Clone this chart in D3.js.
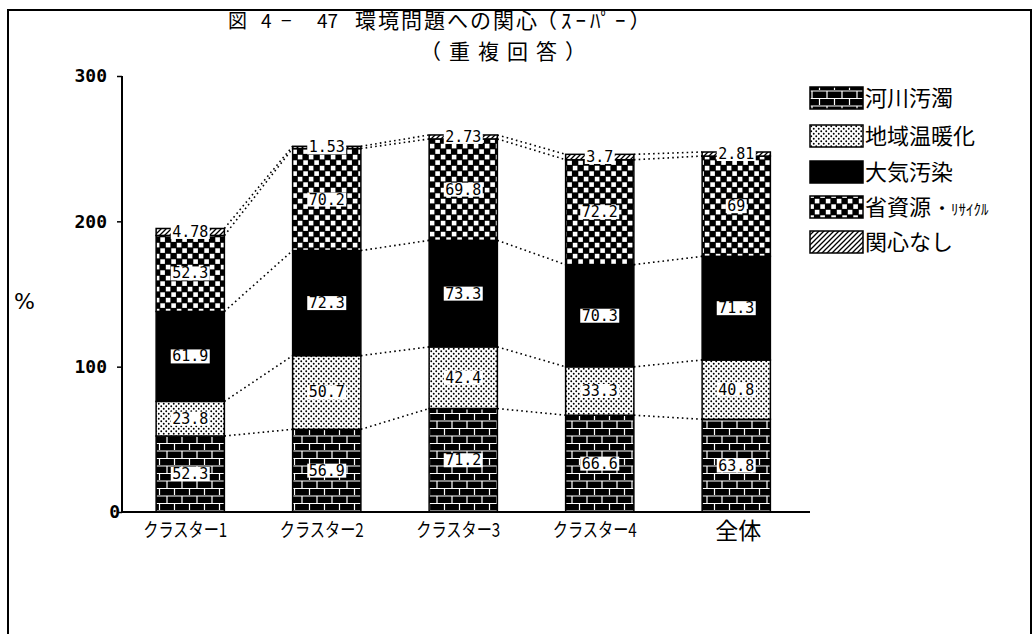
<!DOCTYPE html>
<html><head><meta charset="utf-8">
<script src="https://cdn.jsdelivr.net/npm/d3@7/dist/d3.min.js"></script>
<style>
html,body{margin:0;padding:0;background:#fff;}
svg{display:block;}
</style></head>
<body>
<svg id="c" width="1034" height="634"></svg>
<script>
const categories = ["クラスター1","クラスター2","クラスター3","クラスター4","全体"];
const seriesNames = ["河川汚濁","地域温暖化","大気汚染","省資源・ﾘｻｲｸﾙ","関心なし"];
const river    = [52.3, 56.9, 71.2, 66.6, 63.8];
const warming  = [23.8, 50.7, 42.4, 33.3, 40.8];
const air      = [61.9, 72.3, 73.3, 70.3, 71.3];
const resource = [52.3, 70.2, 69.8, 72.2, 69];
const noInterest = [4.78, 1.53, 2.73, 3.7, 2.81];
const yTicks = [0, 100, 200, 300];

const series = [river, warming, air, resource, noInterest];
const patterns = ["brick","dots","solid","checker","hatch"];

const svg = d3.select("#c");
const defs = svg.append("defs");

// brick
const pb = defs.append("pattern").attr("id","brick").attr("patternUnits","userSpaceOnUse")
  .attr("width",15).attr("height",15);
pb.append("rect").attr("width",15).attr("height",15).attr("fill","#000");
pb.append("path").attr("d","M0,1 H15 M0,8.5 H15 M2,1 V8.5 M9.5,8.5 V16")
  .attr("stroke","#fff").attr("stroke-width",1.2).attr("fill","none");
// dots
const pd = defs.append("pattern").attr("id","dots").attr("patternUnits","userSpaceOnUse")
  .attr("width",5).attr("height",5);
pd.append("rect").attr("width",5).attr("height",5).attr("fill","#fff");
pd.append("circle").attr("cx",1.25).attr("cy",1.25).attr("r",0.95).attr("fill","#000");
pd.append("circle").attr("cx",3.75).attr("cy",3.75).attr("r",0.95).attr("fill","#000");
// solid
const ps = defs.append("pattern").attr("id","solid").attr("patternUnits","userSpaceOnUse")
  .attr("width",4).attr("height",4);
ps.append("rect").attr("width",4).attr("height",4).attr("fill","#000");
// checker
const pc = defs.append("pattern").attr("id","checker").attr("patternUnits","userSpaceOnUse")
  .attr("width",11).attr("height",11);
pc.append("rect").attr("width",11).attr("height",11).attr("fill","#000");
pc.append("rect").attr("x",0.8).attr("y",0.8).attr("width",4.6).attr("height",4.6).attr("fill","#fff");
pc.append("rect").attr("x",6.3).attr("y",6.3).attr("width",4.6).attr("height",4.6).attr("fill","#fff");
// hatch
const ph = defs.append("pattern").attr("id","hatch").attr("patternUnits","userSpaceOnUse")
  .attr("width",5).attr("height",5);
ph.append("rect").attr("width",5).attr("height",5).attr("fill","#fff");
ph.append("path").attr("d","M-1,1 L1,-1 M0,5 L5,0 M4,6 L6,4")
  .attr("stroke","#000").attr("stroke-width",1.3);

// frame
svg.append("path").attr("d","M8,634 V10 H1031 V634").attr("fill","none")
  .attr("stroke","#000").attr("stroke-width",2);

const x = d3.scaleBand().domain(categories).range([122, 804.5]).paddingInner(0.5).paddingOuter(0.25);
const y = d3.scaleLinear().domain([0,300]).range([512, 76]);

// stacked
const stackData = categories.map((c,i)=>{
  const o = {cat:c};
  seriesNames.forEach((s,k)=>o[s]=series[k][i]);
  return o;
});
const stacked = d3.stack().keys(seriesNames)(stackData);

// dotted connectors
const g = svg.append("g");
stacked.forEach((layer)=>{
  for(let i=0;i<categories.length-1;i++){
    g.append("line")
      .attr("x1", x(categories[i])+x.bandwidth()).attr("y1", y(layer[i][1]))
      .attr("x2", x(categories[i+1])).attr("y2", y(layer[i+1][1]))
      .attr("stroke","#000").attr("stroke-width",1.6)
      .attr("stroke-dasharray","1.6,3.2");
  }
});

// bars
stacked.forEach((layer,k)=>{
  g.selectAll(null).data(layer).enter().append("rect")
    .attr("x", (d,i)=>x(categories[i]))
    .attr("width", x.bandwidth())
    .attr("y", d=>y(d[1]))
    .attr("height", d=>y(d[0])-y(d[1]))
    .attr("fill", `url(#${patterns[k]})`)
    .attr("stroke","#000").attr("stroke-width",1.5);
});

// labels
stacked.forEach((layer,k)=>{
  layer.forEach((d,i)=>{
    const cx = x(categories[i]) + x.bandwidth()/2;
    const cy = (y(d[0])+y(d[1]))/2;
    const txt = String(series[k][i]);
    const w = txt.length*9 + 3;
    g.append("rect").attr("x", cx-w/2).attr("y", cy-7).attr("width", w).attr("height", 14)
      .attr("fill","#fff");
    g.append("text").attr("x", cx).attr("y", cy)
      .attr("text-anchor","middle").attr("dominant-baseline","central")
      .attr("font-family","DejaVu Sans Mono").attr("font-size",15)
      .attr("fill","#000").text(txt);
  });
});

// axes
const yAxis = d3.axisLeft(y).tickValues(yTicks).tickSize(14).tickPadding(1).tickFormat(d3.format("d"));
const ya = svg.append("g").attr("transform","translate(122,0)").call(yAxis);
ya.select(".domain").attr("stroke-width",2).attr("d","M0,76 V512");
ya.selectAll(".tick line").attr("stroke-width",1.5).attr("x2",-5);
ya.selectAll(".tick text").attr("font-family","DejaVu Sans Mono").attr("font-size",18)
  .attr("font-weight","bold").attr("x",-15).attr("fill","#000");
ya.selectAll(".tick").filter(d=>d===0).select("text").attr("x",-2);

svg.append("line").attr("x1",121).attr("x2",810).attr("y1",512).attr("y2",512)
  .attr("stroke","#000").attr("stroke-width",2);

// x labels
categories.forEach((c)=>{
  const cx = x(c)+x.bandwidth()/2;
  const t = svg.append("text").attr("x", cx - 5).attr("y", 537)
    .attr("text-anchor","middle").attr("font-family","Noto Sans CJK JP")
    .attr("fill","#000").text(c);
  if(c==="全体") t.attr("font-size",23).attr("x",cx+2).attr("y",539);
  else t.attr("font-size",19).attr("textLength",84).attr("lengthAdjust","spacingAndGlyphs");
});

// y label
svg.append("text").attr("x",14).attr("y",309).attr("font-family","DejaVu Sans")
  .attr("font-size",22).text("%");

// title
const tf = "Noto Sans CJK JP";
const t1 = svg.append("text").attr("y",28).attr("font-family",tf).attr("font-size",19).attr("fill","#000");
t1.append("tspan").attr("x",228).text("図");
t1.append("tspan").attr("x",261).text("4");
t1.append("tspan").attr("x",281).text("−");
t1.append("tspan").attr("x",317).text("47");
svg.append("text").attr("x",355).attr("y",28).attr("font-family",tf).attr("font-size",21)
  .attr("letter-spacing",2).text("環境問題への関心");
svg.append("text").attr("x",536).attr("y",28).attr("font-family",tf).attr("font-size",21)
  .attr("letter-spacing",4).text("（ｽｰﾊﾟｰ）");
svg.append("text").attr("x",420).attr("y",59).attr("font-family",tf).attr("font-size",21)
  .attr("letter-spacing",8).text("（重複回答）");

// legend
const lg = svg.append("g");
const legY = [98, 136, 172, 207, 242];
seriesNames.forEach((s,k)=>{
  lg.append("rect").attr("x",810).attr("y",legY[k]-11).attr("width",53).attr("height",22)
    .attr("fill",`url(#${patterns[k]})`).attr("stroke","#000").attr("stroke-width",1.5);
  const t = lg.append("text").attr("x",865).attr("y",legY[k]+8).attr("font-family",tf)
    .attr("font-size",22).attr("fill","#000");
  if(k===3){
    t.append("tspan").text("省資源");
    t.append("tspan").attr("font-size",18).attr("dx",2).text("・");
    t.append("tspan").attr("font-size",15).attr("dx",0).text("ﾘｻｲｸﾙ");
  } else t.text(s);
});
</script>
</body></html>
